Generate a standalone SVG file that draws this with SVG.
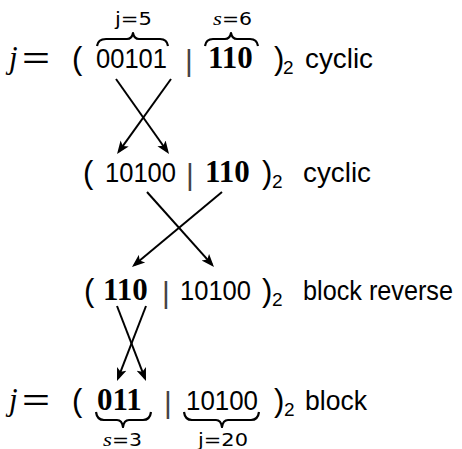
<svg xmlns="http://www.w3.org/2000/svg" width="462" height="449" viewBox="0 0 462 449">
<style>
.t{font-family:"Liberation Sans",Arial,sans-serif;font-size:28px;fill:#000}
.p{font-family:"Liberation Sans",Arial,sans-serif;font-size:31px;fill:#000}
.sub{font-family:"Liberation Sans",Arial,sans-serif;font-size:19px;fill:#000}
.b{font-family:"Liberation Serif","Times New Roman",serif;font-weight:bold;font-size:31px;fill:#000}
.bar{font-family:"Liberation Sans",Arial,sans-serif;font-size:30px;fill:#444}
.j{font-family:"Liberation Serif","Times New Roman",serif;font-style:italic;font-size:31px;fill:#000}
.eq{font-family:"Liberation Sans",Arial,sans-serif;font-size:30px;fill:#000}
.lab{font-family:"DejaVu Sans",sans-serif;font-size:17px;fill:#000}
.it{font-family:"Liberation Serif","Times New Roman",serif;font-style:italic}
.brace{fill:none;stroke:#000;stroke-width:2.2;stroke-linejoin:round}
.conn{stroke:#000;stroke-width:2;fill:none;marker-end:url(#ah)}
</style>
<defs>
<marker id="ah" markerUnits="userSpaceOnUse" markerWidth="14" markerHeight="12" refX="10" refY="5" orient="auto" viewBox="0 0 14 10">
<path d="M13,5 L0,0 L3,5 L0,10 Z" fill="#000"/>
</marker>
</defs>
<g id="row1">
<text class="j" x="9" y="68">j</text>
<text class="eq" x="22" y="68" textLength="28" lengthAdjust="spacingAndGlyphs">=</text>
<text class="p" x="72" y="69">(</text>
<text class="t" x="96" y="68" textLength="71" lengthAdjust="spacingAndGlyphs">00101</text>
<text class="bar" x="185" y="71">|</text>
<text class="b" x="208" y="68">110</text>
<text class="p" x="274" y="69">)</text>
<text class="sub" x="283" y="74">2</text>
<text class="t" x="305" y="68" textLength="68" lengthAdjust="spacingAndGlyphs">cyclic</text>
<path class="brace" d="M97,46 Q98,39 106,39 L127,39 Q132,39 133,33 Q134,39 139,39 L160,39 Q167,39 168,46"/>
<text class="lab" x="115" y="25" textLength="37" lengthAdjust="spacingAndGlyphs">j=5</text>
<path class="brace" d="M205,46 Q206,39 213,39 L225,39 Q230,39 231,33 Q232,39 237,39 L250,39 Q257,39 258,46"/>
<text class="lab" x="213" y="25" textLength="39" lengthAdjust="spacingAndGlyphs"><tspan class="it" font-size="19">s</tspan>=6</text>
</g>
<g id="row2">
<text class="p" x="83" y="183">(</text>
<text class="t" x="105" y="182" textLength="71" lengthAdjust="spacingAndGlyphs">10100</text>
<text class="bar" x="186" y="185">|</text>
<text class="b" x="205" y="182">110</text>
<text class="p" x="262" y="183">)</text>
<text class="sub" x="272" y="188">2</text>
<text class="t" x="303" y="182" textLength="68" lengthAdjust="spacingAndGlyphs">cyclic</text>
</g>
<g id="row3">
<text class="p" x="84" y="301">(</text>
<text class="b" x="103" y="300">110</text>
<text class="bar" x="162" y="303">|</text>
<text class="t" x="180" y="300" textLength="71" lengthAdjust="spacingAndGlyphs">10100</text>
<text class="p" x="262" y="301">)</text>
<text class="sub" x="272" y="306">2</text>
<text class="t" x="303" y="300" font-size="26" textLength="150" lengthAdjust="spacingAndGlyphs">block reverse</text>
</g>
<g id="row4">
<text class="j" x="9" y="410">j</text>
<text class="eq" x="22" y="410" textLength="28" lengthAdjust="spacingAndGlyphs">=</text>
<text class="p" x="72" y="411">(</text>
<text class="b" x="97" y="410">011</text>
<text class="bar" x="164" y="413">|</text>
<text class="t" x="186" y="410" textLength="72" lengthAdjust="spacingAndGlyphs">10100</text>
<text class="p" x="274" y="411">)</text>
<text class="sub" x="284" y="416">2</text>
<text class="t" x="305" y="410" textLength="62" lengthAdjust="spacingAndGlyphs">block</text>
<path class="brace" d="M96,412 Q97,420 104,420 L117,420 Q122,420 123,427 Q124,420 129,420 L143,420 Q150,420 151,412"/>
<text class="lab" x="103" y="446" textLength="39" lengthAdjust="spacingAndGlyphs"><tspan class="it" font-size="19">s</tspan>=3</text>
<path class="brace" d="M184,412 Q185,420 192,420 L216,420 Q221,420 222,427 Q223,420 228,420 L251,420 Q258,420 259,412"/>
<text class="lab" x="198" y="446" textLength="50" lengthAdjust="spacingAndGlyphs">j=20</text>
</g>
<g id="connectors">
<line class="conn" x1="116" y1="79" x2="167.3" y2="151.5"/>
<line class="conn" x1="171" y1="79" x2="118.8" y2="151.6"/>
<line class="conn" x1="147" y1="192" x2="212" y2="264.7"/>
<line class="conn" x1="222" y1="192" x2="134.3" y2="265.1"/>
<line class="conn" x1="117" y1="306" x2="144.9" y2="378.2"/>
<line class="conn" x1="146" y1="306" x2="118.1" y2="378.2"/>
</g>
</svg>
